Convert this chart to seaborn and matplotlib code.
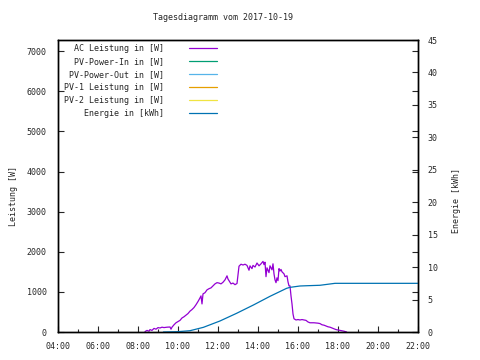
import matplotlib
matplotlib.use("Agg")
import matplotlib.pyplot as plt
import numpy as np
import seaborn as sns

# daily values, hours as float
ac_hours = [8.35, 8.45, 8.55, 8.6, 8.7, 8.8, 8.9, 9.0, 9.1, 9.2, 9.3, 9.45, 9.6, 9.65, 9.7,
            9.8, 9.9, 10.0, 10.1, 10.2, 10.3, 10.4, 10.5, 10.6, 10.7, 10.8, 10.9, 11.0,
            11.1, 11.15, 11.2, 11.25, 11.35, 11.45, 11.55, 11.65, 11.75, 11.85, 11.95,
            12.05, 12.15, 12.25, 12.35, 12.45, 12.5, 12.55, 12.65, 12.75, 12.85, 12.95,
            13.05, 13.15, 13.25, 13.35, 13.45, 13.55, 13.6, 13.7, 13.75, 13.85, 13.95,
            14.05, 14.15, 14.25, 14.3, 14.35, 14.4, 14.45, 14.55, 14.6, 14.7, 14.75,
            14.8, 14.85, 14.9, 14.95, 15.0, 15.05, 15.1, 15.15, 15.2, 15.3, 15.35, 15.45,
            15.5, 15.55, 15.6, 15.65, 15.7, 15.75, 15.8, 15.9, 16.0, 16.1, 16.2, 16.3,
            16.4, 16.5, 16.6, 16.8, 17.0, 17.1, 17.2, 17.3, 17.4, 17.5, 17.6, 17.7, 17.8,
            17.9, 18.0, 18.1, 18.2, 18.3, 18.43]
ac_power = [10, 40, 20, 60, 40, 90, 70, 110, 100, 120, 110, 120, 125, 70, 120,
            180, 230, 260, 290, 350, 380, 420, 460, 520, 560, 610, 680, 760,
            850, 900, 700, 950, 980, 1050, 1080, 1100, 1150, 1200, 1230,
            1220, 1200, 1240, 1300, 1400, 1320, 1280, 1200, 1220, 1180, 1210,
            1640, 1690, 1670, 1690, 1660, 1540, 1650, 1580, 1660, 1620, 1720,
            1650, 1700, 1760, 1680, 1740, 1380, 1600, 1480, 1650, 1550, 1700,
            1450, 1300, 1230, 1350, 1280, 1580, 1520, 1560, 1500, 1450, 1380, 1400,
            1250, 1150, 1150, 900, 700, 450, 330, 300, 310, 300, 310, 300,
            290, 250, 230, 230, 220, 210, 180, 170, 150, 130, 120, 100, 80,
            60, 50, 40, 30, 20, 0]

energy_hours = [9.27, 10.0, 10.6, 11.27, 12.1, 12.93, 13.77, 14.6, 15.43, 15.6, 16.1,
                16.43, 17.1, 17.85, 22.0]
energy_kwh = [0.0, 0.05, 0.2, 0.72, 1.7, 2.88, 4.16, 5.5, 6.73, 6.88, 7.09,
              7.13, 7.2, 7.5, 7.5]

# series without data on this day
pv_in = []
pv_out = []
pv1 = []
pv2 = []

hour_ticks = [4, 6, 8, 10, 12, 14, 16, 18, 20, 22]

sns.set_style('ticks')
plt.rcParams['font.family'] = ['DejaVu Sans Mono']
fs = 6

fig = plt.figure(figsize=(4.8, 3.6), dpi=100)
ax = fig.add_axes([58 / 480, 1 - 332 / 360, 360 / 480, 292 / 360])
ax2 = ax.twinx()

sns.lineplot(x=ac_hours, y=ac_power, ax=ax, color='#9400d3', lw=0.9, label='AC Leistung in [W]')
ax.plot(pv_in, pv_in, color='#009e73', lw=0.9, label='PV-Power-In in [W]')
ax.plot(pv_out, pv_out, color='#56b4e9', lw=0.9, label='PV-Power-Out in [W]')
ax.plot(pv1, pv1, color='#e69f00', lw=0.9, label='PV-1 Leistung in [W]')
ax.plot(pv2, pv2, color='#f0e442', lw=0.9, label='PV-2 Leistung in [W]')
sns.lineplot(x=energy_hours, y=energy_kwh, ax=ax2, color='#0072b2', lw=0.9,
             label='Energie in [kWh]')

ax.set_xlim(4, 22)
ax.set_ylim(0, 7280)
ax2.set_ylim(0, 45)

ax.set_xticks(hour_ticks)
ax.set_xticklabels([f'{h:02d}:00' for h in hour_ticks])
ax.set_xticks(range(4, 23), minor=True)
ax.set_yticks(range(0, 8000, 1000))
ax2.set_yticks(range(0, 50, 5))

ax.tick_params(axis='both', which='major', direction='in', length=4, width=0.8,
               labelsize=fs, right=True, top=False)
ax.tick_params(axis='x', which='minor', direction='in', length=2, width=0.8, top=False)
ax.tick_params(axis='x', pad=7)
ax.tick_params(axis='y', pad=8)
ax2.tick_params(axis='y', direction='in', length=4, width=0.8, labelsize=fs, pad=7)

for a in (ax, ax2):
    for s in a.spines.values():
        s.set_visible(True)
        s.set_linewidth(1.0)
        s.set_color('black')

ax.set_xlabel('')
ax.set_ylabel('Leistung [W]', fontsize=fs)
ax.yaxis.set_label_coords(-0.111, 0.466)
ax2.set_ylabel('Energie [kWh]', fontsize=fs)
ax2.yaxis.set_label_coords(1.094, 0.452)

# legend: text right aligned, sample line after it
h1, l1 = ax.get_legend_handles_labels()
h2, l2 = ax2.get_legend_handles_labels()
if ax2.get_legend():
    ax2.get_legend().remove()
ax.legend(h1 + h2, l1 + l2, loc='upper right', bbox_to_anchor=(0.46, 1.01),
          frameon=False, markerfirst=False, fontsize=fs, handlelength=3.3,
          handletextpad=3.0, labelspacing=0.48, borderpad=0.3)

fig.text(223 / 480, 1 - 18 / 360, 'Tagesdiagramm vom 2017-10-19', ha='center', va='center', fontsize=fs)

fig.savefig('out.png', dpi=100)
